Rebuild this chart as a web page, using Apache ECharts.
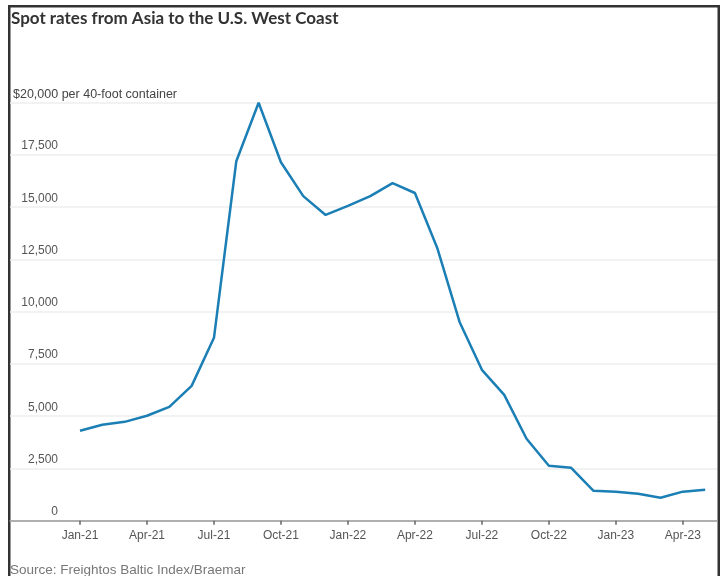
<!DOCTYPE html>
<html>
<head>
<meta charset="utf-8">
<script src="https://cdn.jsdelivr.net/npm/echarts@6/dist/echarts.min.js"></script>
<style>
  html, body { margin: 0; padding: 0; background: #fff; }
  #chart { width: 723px; height: 576px; }
</style>
</head>
<body>
<div id="chart"></div>
<script>
// Monthly spot rates, Jan 2021 – May 2023 (USD per 40-foot container)
const months = [
  'Jan-21','Feb-21','Mar-21','Apr-21','May-21','Jun-21','Jul-21','Aug-21','Sep-21','Oct-21','Nov-21','Dec-21',
  'Jan-22','Feb-22','Mar-22','Apr-22','May-22','Jun-22','Jul-22','Aug-22','Sep-22','Oct-22','Nov-22','Dec-22',
  'Jan-23','Feb-23','Mar-23','Apr-23','May-23'
];
const rates = [
  4300, 4590, 4730, 5020, 5450, 6450, 8750, 17200, 20000, 17150, 15530, 14630,
  15060, 15530, 16150, 15680, 13050, 9510, 7220, 6020, 3920, 2630, 2530, 1430,
  1390, 1290, 1100, 1390, 1480
];
// Quarterly tick positions (month index) and the y-axis ticks
const xTickIdx = [0, 3, 6, 9, 12, 15, 18, 21, 24, 27];
const yTicks = [0, 2500, 5000, 7500, 10000, 12500, 15000, 17500, 20000];
const unitLabel = '$20,000 per 40-foot container';

const chart = echarts.init(document.getElementById('chart'), null, { renderer: 'canvas' });

const font = '"Liberation Sans", Arial, sans-serif';

chart.setOption({
  backgroundColor: '#ffffff',
  animation: false,
  title: {
    text: 'Spot rates from Asia to the U.S. West Coast',
    left: 11,
    top: 10,
    padding: 0,
    textStyle: { fontFamily: 'Lato', fontWeight: 'bold', fontSize: 17, color: '#333333' }
  },
  grid: { left: 10, right: 6, top: 102.7, bottom: 55.3 },
  xAxis: {
    type: 'value',
    min: -3.135,
    max: 28.53,
    splitLine: { show: false },
    axisLine: { show: true, lineStyle: { color: '#999999', width: 1.5 } },
    axisTick: {
      show: true, length: 4, inside: false,
      customValues: xTickIdx,
      lineStyle: { color: '#666666', width: 1.5 }
    },
    axisLabel: {
      customValues: xTickIdx,
      formatter: v => months[Math.round(v)],
      fontFamily: font, fontSize: 12, color: '#555555', margin: 9
    }
  },
  yAxis: {
    type: 'value',
    min: yTicks[0],
    max: yTicks[yTicks.length - 1],
    interval: 2500,
    axisLine: { show: false },
    axisTick: { show: false },
    splitLine: { show: true, lineStyle: { color: '#eeeeee', width: 1.5 } },
    axisLabel: {
      inside: true,
      align: 'right',
      verticalAlign: 'bottom',
      margin: 48,
      padding: [0, 0, 3, 0],
      fontFamily: font, fontSize: 12, color: '#555555',
      formatter: v => (v === 20000 ? '' : v.toLocaleString('en-US'))
    }
  },
  series: [{
    type: 'line',
    data: rates.map((r, i) => [i, r]),
    showSymbol: false,
    lineStyle: { color: '#1b7fb5', width: 2.5 },
    itemStyle: { color: '#1b7fb5' },
    z: 5
  }],
  graphic: [
    { type: 'rect', shape: { x: 8, y: 5, width: 2.5, height: 571 }, style: { fill: '#333333' }, silent: true },
    { type: 'rect', shape: { x: 8, y: 5, width: 712, height: 2.5 }, style: { fill: '#333333' }, silent: true },
    { type: 'rect', shape: { x: 717.5, y: 5, width: 2.5, height: 571 }, style: { fill: '#333333' }, silent: true },
    {
      type: 'text', left: 13, top: 88,
      style: { text: unitLabel, font: '12.5px "Liberation Sans", Arial, sans-serif', fill: '#444444' },
      silent: true
    },
    {
      type: 'text', left: 10, top: 563,
      style: {
        text: 'Source: Freightos Baltic Index/Braemar',
        font: '13.5px "Liberation Sans", Arial, sans-serif',
        fill: '#777777'
      },
      silent: true
    }
  ]
});
</script>
</body>
</html>
